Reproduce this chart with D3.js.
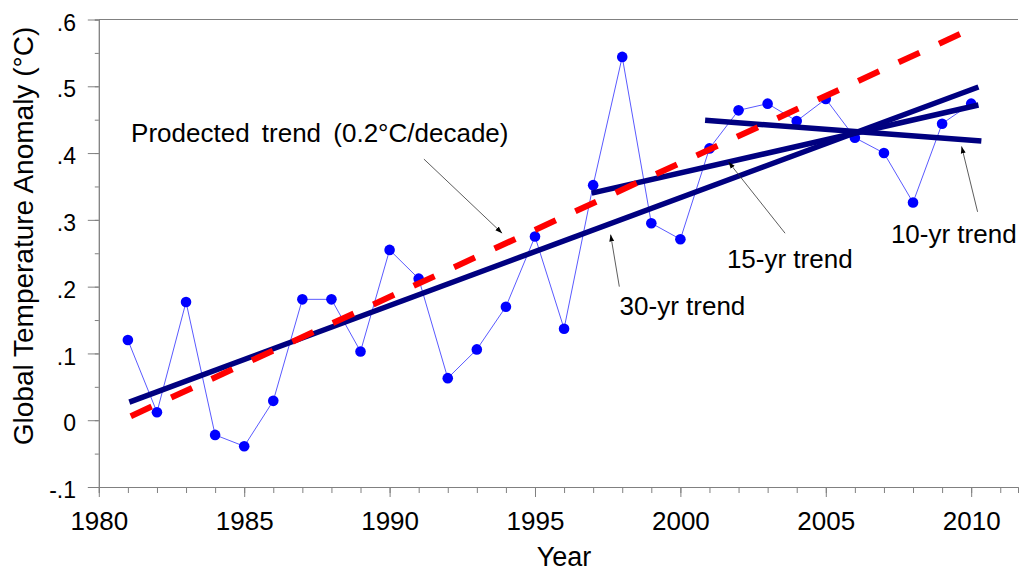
<!DOCTYPE html>
<html>
<head>
<meta charset="utf-8">
<script src="https://cdn.jsdelivr.net/npm/d3@7"></script>
<style>
  body { margin: 0; background: #fff; }
  svg { display: block; font-family: "Liberation Sans", Arial, sans-serif; }
</style>
</head>
<body>
<svg id="chart"></svg>
<script>
// observed annual anomalies
const years = [1981, 1982, 1983, 1984, 1985, 1986, 1987, 1988, 1989, 1990,
               1991, 1992, 1993, 1994, 1995, 1996, 1997, 1998, 1999, 2000,
               2001, 2002, 2003, 2004, 2005, 2006, 2007, 2008, 2009, 2010]
const anomalies = [0.120, 0.012, 0.177, -0.022, -0.039, 0.029, 0.181, 0.181, 0.103, 0.255,
                   0.212, 0.063, 0.106, 0.170, 0.275, 0.137, 0.352, 0.544, 0.295, 0.271,
                   0.407, 0.464, 0.474, 0.448, 0.481, 0.423, 0.400, 0.326, 0.444, 0.474]

// fitted trends (start / end)
const trendNames = ['30-yr', '15-yr', '10-yr']
const trendYears = [[1981.05, 2010.25], [1996.95, 2010.25], [2000.85, 2010.35]]
const trendValues = [[0.027, 0.499], [0.340, 0.472], [0.449, 0.418]]

// projected 0.2°C/decade
const projectedYears = [1981.1, 2010.2]
const projectedValues = [0.006, 0.590]

// axis ticks
const xTicks = [1980, 1985, 1990, 1995, 2000, 2005, 2010]
const yTicks = [-0.1, 0, 0.1, 0.2, 0.3, 0.4, 0.5, 0.6]
const yTickLabels = ['-.1', '0', '.1', '.2', '.3', '.4', '.5', '.6']

// annotations: text anchor and arrow in data units
const noteLabels = ['Prodected trend (0.2°C/decade)', '30-yr trend', '15-yr trend', '10-yr trend']
const notePos = [[1981.11, 0.417], [1997.91, 0.1575], [2001.60, 0.2274], [2007.24, 0.2648]]
const arrowFrom = [[1991.18, 0.391], [1997.90, 0.200], [2003.60, 0.280], [2010.22, 0.312]]
const arrowTo = [[1993.87, 0.280], [1997.60, 0.278], [2001.65, 0.387], [2009.67, 0.410]]

const width = 1020
const height = 574
const margin = { top: 19.5, right: 2, bottom: 87, left: 98.8 }
const innerW = width - margin.left - margin.right
const innerH = height - margin.top - margin.bottom

const axisColor = '#808080'

const svg = d3.select('#chart')
  .attr('width', width)
  .attr('height', height)

svg.append('defs').append('marker')
  .attr('id', 'arrow')
  .attr('viewBox', '0 0 10 10')
  .attr('refX', 10)
  .attr('refY', 5)
  .attr('markerWidth', 7)
  .attr('markerHeight', 7)
  .attr('markerUnits', 'userSpaceOnUse')
  .attr('orient', 'auto')
  .append('path')
  .attr('d', 'M0,1.5L10,5L0,8.5Z')
  .attr('fill', '#000')

const g = svg.append('g')
  .attr('transform', `translate(${margin.left},${margin.top})`)

const x = d3.scaleLinear().domain([1980, 2011.61]).range([0, innerW])
const y = d3.scaleLinear().domain([-0.1, 0.6]).range([innerH, 0])

/* AXES */
const minorX = g.append('g')
  .attr('transform', `translate(0,${innerH})`)
  .call(d3.axisBottom(x).tickValues(d3.range(1980, 2012)).tickSize(6).tickFormat(''))
const majorX = g.append('g')
  .attr('transform', `translate(0,${innerH})`)
  .call(d3.axisBottom(x).tickValues(xTicks).tickSize(10).tickSizeOuter(0).tickFormat(d3.format('d')))
majorX.selectAll('text')
  .attr('y', 25)
  .attr('font-size', 26)
  .attr('fill', '#000')

const minorY = g.append('g')
  .call(d3.axisLeft(y).tickValues(d3.range(-0.1, 0.61, 0.05)).tickSize(4).tickFormat(''))
const majorY = g.append('g')
  .call(d3.axisLeft(y).tickValues(yTicks).tickSize(11).tickSizeOuter(0)
    .tickPadding(11.8).tickFormat((d, i) => yTickLabels[i]))
majorY.selectAll('text')
  .attr('dy', '0.46em')
  .attr('font-size', 23)
  .attr('fill', '#000')

for (const ax of [minorX, majorX, minorY, majorY]) {
  ax.selectAll('line').attr('stroke', axisColor)
  ax.select('.domain').attr('stroke', axisColor)
}

// top frame line
g.append('line')
  .attr('x1', 0).attr('x2', innerW)
  .attr('y1', y(0.6)).attr('y2', y(0.6))
  .attr('stroke', axisColor)

svg.append('text')
  .attr('x', 564)
  .attr('y', 566)
  .attr('text-anchor', 'middle')
  .attr('font-size', 27)
  .text('Year')

svg.append('text')
  .attr('transform', 'translate(33,236) rotate(-90)')
  .attr('text-anchor', 'middle')
  .attr('font-size', 28)
  .text('Global Temperature Anomaly (°C)')

/* DATA */
const pts = years.map((yr, i) => [yr, anomalies[i]])

g.append('path')
  .datum(pts)
  .attr('d', d3.line().x(d => x(d[0])).y(d => y(d[1])))
  .attr('fill', 'none')
  .attr('stroke', '#5a5aff')
  .attr('stroke-width', 1)

g.selectAll('circle.obs')
  .data(pts)
  .join('circle')
  .attr('class', 'obs')
  .attr('cx', d => x(d[0]))
  .attr('cy', d => y(d[1]))
  .attr('r', 5.3)
  .attr('fill', '#0000ff')

const segLine = d3.line().x(d => x(d[0])).y(d => y(d[1]))

g.selectAll('path.trend')
  .data(trendNames.map((n, i) => trendYears[i].map((yr, j) => [yr, trendValues[i][j]])))
  .join('path')
  .attr('class', 'trend')
  .attr('d', segLine)
  .attr('fill', 'none')
  .attr('stroke', '#000080')
  .attr('stroke-width', 5.5)

g.append('path')
  .datum(projectedYears.map((yr, j) => [yr, projectedValues[j]]))
  .attr('d', segLine)
  .attr('fill', 'none')
  .attr('stroke', '#ff0000')
  .attr('stroke-width', 6)
  .attr('stroke-dasharray', '23 21.5')

/* ANNOTATIONS */
g.selectAll('line.note')
  .data(noteLabels.map((t, i) => ({ from: arrowFrom[i], to: arrowTo[i] })))
  .join('line')
  .attr('class', 'note')
  .attr('x1', d => x(d.from[0])).attr('y1', d => y(d.from[1]))
  .attr('x2', d => x(d.to[0])).attr('y2', d => y(d.to[1]))
  .attr('stroke', '#333')
  .attr('stroke-width', 0.8)
  .attr('marker-end', 'url(#arrow)')

g.selectAll('text.note')
  .data(noteLabels)
  .join('text')
  .attr('class', 'note')
  .attr('x', (d, i) => x(notePos[i][0]))
  .attr('y', (d, i) => y(notePos[i][1]))
  .attr('font-size', 26)
  .attr('word-spacing', (d, i) => i === 0 ? 5 : 0)
  .text(d => d)
</script>
</body>
</html>
